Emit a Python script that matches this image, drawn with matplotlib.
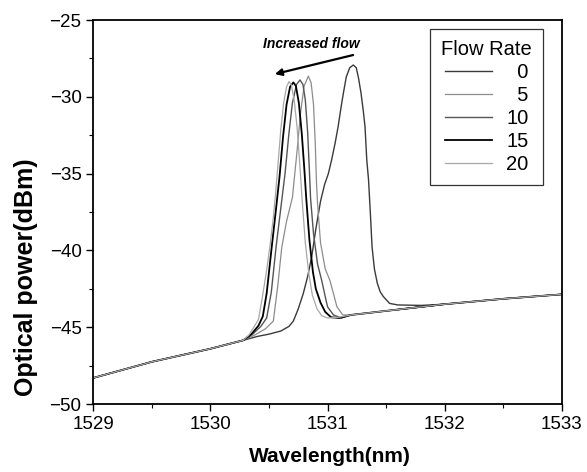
import matplotlib
matplotlib.use("Agg")
import matplotlib.pyplot as plt
from matplotlib.ticker import MultipleLocator

plt.rcParams['font.family'] = ['Liberation Sans', 'DejaVu Sans']

# shared background (ASE floor) left and right of the peaks
base_left_wl = [1529.0, 1529.5, 1530.0]
base_left_db = [-48.3, -47.25, -46.4]
base_right_wl = [1531.6, 1532.0, 1532.5, 1533.0]
base_right_db = [-43.85, -43.5, -43.15, -42.86]

flow_rates = ['0', '5', '10', '15', '20']

# peak sections
wl_0 = [1530.28, 1530.4, 1530.5, 1530.6, 1530.67, 1530.708, 1530.75, 1530.793, 1530.83,
        1530.865, 1530.9, 1530.94, 1530.975, 1531.007, 1531.035, 1531.065, 1531.09, 1531.115,
        1531.135, 1531.16, 1531.19, 1531.22, 1531.245, 1531.265, 1531.286, 1531.305, 1531.32,
        1531.335, 1531.35, 1531.365, 1531.38, 1531.40, 1531.425, 1531.45, 1531.476, 1531.53]
db_0 = [-45.85, -45.6, -45.45, -45.25, -44.95, -44.6, -43.8, -42.8, -41.7,
        -40.4, -38.6, -36.8, -35.7, -35.0, -34.1, -33.0, -31.95, -30.7,
        -29.77, -28.7, -28.1, -27.93, -28.1, -28.8, -29.77, -30.9, -31.95,
        -34.1, -35.4, -37.5, -39.76, -41.2, -42.14, -42.7, -43.0, -43.45]
tail_0_wl = [1531.6, 1531.8, 1532.0]
tail_0_db = [-43.55, -43.58, -43.5]

wl_5 = [1530.28, 1530.38, 1530.47, 1530.537, 1530.575, 1530.609, 1530.65, 1530.70, 1530.74,
        1530.77, 1530.80, 1530.836, 1530.86, 1530.88, 1530.895, 1530.905, 1530.915, 1530.94,
        1530.98, 1531.02, 1531.05, 1531.08, 1531.13, 1531.2]
db_5 = [-45.85, -45.5, -45.1, -44.6, -42.3, -39.8, -38.1, -36.55, -33.5,
        -31.0, -29.3, -28.65, -29.1, -30.5, -33.0, -35.5, -37.0, -39.5,
        -41.2, -41.95, -42.8, -43.67, -44.2, -44.2]

wl_10 = [1530.28, 1530.36, 1530.43, 1530.48, 1530.52, 1530.56, 1530.60, 1530.637, 1530.67,
         1530.70, 1530.735, 1530.765, 1530.79, 1530.81, 1530.83, 1530.845, 1530.855, 1530.88,
         1530.915, 1530.95, 1530.98, 1531.0, 1531.05, 1531.12, 1531.2]
db_10 = [-45.85, -45.45, -44.95, -44.4, -42.7, -39.8, -37.3, -35.0, -32.4,
         -30.4, -29.2, -28.9, -29.2, -30.2, -32.3, -34.8, -36.6, -38.9,
         -40.9, -41.95, -43.0, -43.67, -44.2, -44.4, -44.2]

wl_15 = [1530.28, 1530.35, 1530.41, 1530.447, 1530.48, 1530.523, 1530.56, 1530.59, 1530.62,
         1530.65, 1530.68, 1530.708, 1530.73, 1530.755, 1530.78, 1530.80, 1530.818, 1530.845,
         1530.875, 1530.90, 1530.94, 1530.98, 1531.03, 1531.1, 1531.2]
db_15 = [-45.85, -45.45, -44.9, -44.3, -42.8, -39.8, -37.3, -35.2, -32.6,
         -30.5, -29.35, -29.06, -29.3, -30.4, -32.4, -34.5, -36.6, -39.3,
         -41.4, -42.5, -43.4, -44.0, -44.35, -44.4, -44.2]

wl_20 = [1530.28, 1530.33, 1530.37, 1530.41, 1530.44, 1530.48, 1530.51, 1530.535, 1530.555,
         1530.575, 1530.60, 1530.625, 1530.65, 1530.671, 1530.69, 1530.715, 1530.74, 1530.765,
         1530.782, 1530.81, 1530.84, 1530.87, 1530.91, 1530.95, 1531.0, 1531.1, 1531.2]
db_20 = [-45.85, -45.5, -45.0, -44.5, -43.2, -41.3, -39.6, -38.0, -36.4,
         -34.6, -32.2, -30.4, -29.35, -29.01, -29.2, -30.2, -32.0, -34.6,
         -36.6, -39.5, -41.5, -42.9, -43.8, -44.25, -44.4, -44.35, -44.2]

colors = ['#3a3a3a', '#8c8c8c', '#555555', '#000000', '#a8a8a8']
widths = [1.0, 0.9, 1.0, 1.3, 0.9]

fig = plt.figure(figsize=(5.87, 4.72), dpi=100)
ax = fig.add_axes([0.159, 0.144, 0.798, 0.8136])

series = [
    (wl_0 + tail_0_wl, db_0 + tail_0_db),
    (wl_5, db_5),
    (wl_10, db_10),
    (wl_15, db_15),
    (wl_20, db_20),
]
for (wl, db), lab, c, lw in zip(series, flow_rates, colors, widths):
    x = base_left_wl + wl + base_right_wl
    y = base_left_db + db + base_right_db
    # pad labels with figure spaces so the numbers line up on the right
    ax.plot(x, y, color=c, lw=lw, label=lab.rjust(2, '\u2007'))

ax.set_xlim(1529, 1533)
ax.set_ylim(-50, -25)
ax.xaxis.set_major_locator(MultipleLocator(1))
ax.xaxis.set_minor_locator(MultipleLocator(0.5))
ax.yaxis.set_major_locator(MultipleLocator(5))
ax.yaxis.set_minor_locator(MultipleLocator(2.5))
ax.tick_params(which='major', direction='out', length=5, width=1, labelsize=13.5)
ax.tick_params(which='minor', direction='out', length=3, width=0.8)
for s in ax.spines.values():
    s.set_linewidth(1.3)

ax.set_xlabel('Wavelength(nm)', fontsize=15, fontweight='bold')
ax.set_ylabel('Optical power(dBm)', fontsize=18, fontweight='bold')
ax.xaxis.set_label_coords(0.505, -0.112)
ax.yaxis.set_label_coords(-0.118, 0.33)

ax.annotate('', xy=(1530.55, -28.52), xytext=(1531.218, -27.28),
            arrowprops=dict(arrowstyle='-|>', color='black', lw=1.6,
                            mutation_scale=10, shrinkA=0, shrinkB=0))
ax.text(1530.865, -26.55, 'Increased flow', fontsize=10, fontweight='bold',
        fontstyle='italic', ha='center', va='center')

leg = ax.legend(title='Flow Rate', loc='upper right', bbox_to_anchor=(0.960, 0.977),
                borderaxespad=0, fontsize=14.5, title_fontsize=14.5, frameon=True,
                fancybox=False, handlelength=2.35, handletextpad=0.7,
                labelspacing=0.2, borderpad=0.55)
leg.get_frame().set_edgecolor('black')
leg.get_frame().set_linewidth(0.9)

fig.savefig('out.png', dpi=100)
